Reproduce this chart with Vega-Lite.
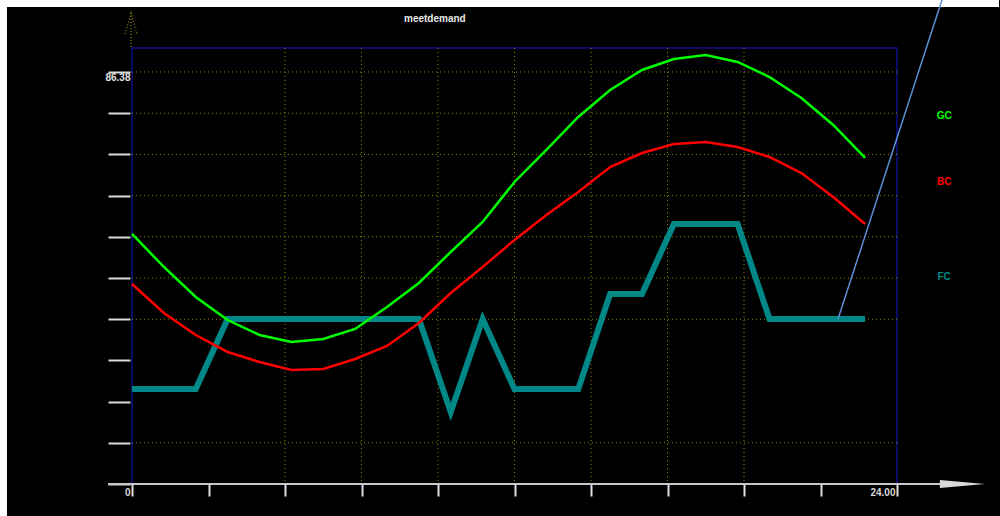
{
  "$schema": "https://vega.github.io/schema/vega-lite/v6.json",
  "width": 765,
  "height": 436,
  "autosize": "none",
  "padding": {"left": 132, "top": 48, "right": 103, "bottom": 32},
  "background": "#000000",
  "config": {
    "view": {"stroke": "#101088", "strokeWidth": 1.5},
    "axis": {"zindex": 1}
  },
  "title": {
    "text": "meetdemand",
    "anchor": "start",
    "frame": "group",
    "dx": 272,
    "offset": -35,
    "baseline": "alphabetic",
    "color": "#e8e8e8",
    "font": "Liberation Sans",
    "fontSize": 10,
    "fontWeight": "bold"
  },
  "datasets": {
    "demand": [
      {"hour": 0, "series": "GC", "value": 52.42}, {"hour": 1, "series": "GC", "value": 45.50}, {"hour": 2, "series": "GC", "value": 39.21}, {"hour": 3, "series": "GC", "value": 34.38},
      {"hour": 4, "series": "GC", "value": 31.24}, {"hour": 5, "series": "GC", "value": 29.77}, {"hour": 6, "series": "GC", "value": 30.40}, {"hour": 7, "series": "GC", "value": 32.50},
      {"hour": 8, "series": "GC", "value": 37.11}, {"hour": 9, "series": "GC", "value": 42.14}, {"hour": 10, "series": "GC", "value": 48.64}, {"hour": 11, "series": "GC", "value": 54.93},
      {"hour": 12, "series": "GC", "value": 63.32}, {"hour": 13, "series": "GC", "value": 70.03}, {"hour": 14, "series": "GC", "value": 76.95}, {"hour": 15, "series": "GC", "value": 82.61},
      {"hour": 16, "series": "GC", "value": 86.80}, {"hour": 17, "series": "GC", "value": 89.11}, {"hour": 18, "series": "GC", "value": 89.94}, {"hour": 19, "series": "GC", "value": 88.48},
      {"hour": 20, "series": "GC", "value": 85.33}, {"hour": 21, "series": "GC", "value": 80.93}, {"hour": 22, "series": "GC", "value": 75.27}, {"hour": 23, "series": "GC", "value": 68.35},
      {"hour": 0, "series": "BC", "value": 41.93}, {"hour": 1, "series": "BC", "value": 35.85}, {"hour": 2, "series": "BC", "value": 31.24}, {"hour": 3, "series": "BC", "value": 27.68},
      {"hour": 4, "series": "BC", "value": 25.58}, {"hour": 5, "series": "BC", "value": 23.90}, {"hour": 6, "series": "BC", "value": 24.11}, {"hour": 7, "series": "BC", "value": 26.21},
      {"hour": 8, "series": "BC", "value": 28.93}, {"hour": 9, "series": "BC", "value": 33.76}, {"hour": 10, "series": "BC", "value": 40.05}, {"hour": 11, "series": "BC", "value": 45.50},
      {"hour": 12, "series": "BC", "value": 51.16}, {"hour": 13, "series": "BC", "value": 56.40}, {"hour": 14, "series": "BC", "value": 61.22}, {"hour": 15, "series": "BC", "value": 66.46},
      {"hour": 16, "series": "BC", "value": 69.40}, {"hour": 17, "series": "BC", "value": 71.28}, {"hour": 18, "series": "BC", "value": 71.70}, {"hour": 19, "series": "BC", "value": 70.65},
      {"hour": 20, "series": "BC", "value": 68.56}, {"hour": 21, "series": "BC", "value": 65.20}, {"hour": 22, "series": "BC", "value": 60.17}, {"hour": 23, "series": "BC", "value": 54.51},
      {"hour": 0, "series": "FC", "value": 19.92}, {"hour": 1, "series": "FC", "value": 19.92}, {"hour": 2, "series": "FC", "value": 19.92}, {"hour": 3, "series": "FC", "value": 34.59},
      {"hour": 4, "series": "FC", "value": 34.59}, {"hour": 5, "series": "FC", "value": 34.59}, {"hour": 6, "series": "FC", "value": 34.59}, {"hour": 7, "series": "FC", "value": 34.59},
      {"hour": 8, "series": "FC", "value": 34.59}, {"hour": 9, "series": "FC", "value": 34.59}, {"hour": 10, "series": "FC", "value": 15.10}, {"hour": 11, "series": "FC", "value": 34.59},
      {"hour": 12, "series": "FC", "value": 19.92}, {"hour": 13, "series": "FC", "value": 19.92}, {"hour": 14, "series": "FC", "value": 19.92}, {"hour": 15, "series": "FC", "value": 39.84},
      {"hour": 16, "series": "FC", "value": 39.84}, {"hour": 17, "series": "FC", "value": 54.51}, {"hour": 18, "series": "FC", "value": 54.51}, {"hour": 19, "series": "FC", "value": 54.51},
      {"hour": 20, "series": "FC", "value": 34.59}, {"hour": 21, "series": "FC", "value": 34.59}, {"hour": 22, "series": "FC", "value": 34.59}, {"hour": 23, "series": "FC", "value": 34.59}
    ],
    "hgrid": [{"v": 8.638}, {"v": 34.552}, {"v": 43.19}, {"v": 51.828}, {"v": 60.466}, {"v": 69.104}, {"v": 77.742}, {"v": 86.38}],
    "vgrid": [{"h": 4.8}, {"h": 7.2}, {"h": 9.6}, {"h": 12}, {"h": 14.4}, {"h": 16.8}, {"h": 19.2}],
    "pointer": [{"hour": 22.15, "value": 34.59}, {"hour": 25.41, "value": 101.48}]
  },
  "layer": [
    {
      "data": {"values": [{}]},
      "mark": {"type": "rect", "color": "#ffffff", "clip": false},
      "encoding": {
        "x": {"datum": -4.141, "type": "quantitative", "scale": {"domain": [0, 24], "nice": false, "zero": false}, "axis": {"values": [0, 2.4, 4.8, 7.2, 9.6, 12, 14.4, 16.8, 19.2, 21.6, 24], "domain": false, "grid": false, "title": null, "tickSize": 12, "tickWidth": 2, "tickColor": "#e0e0e0", "labelExpr": "datum.value == 0 ? '0' : (datum.value == 24 ? '24.00' : '')", "labelAlign": "right", "labelBaseline": "top", "labelPadding": -9, "labelOffset": -2, "labelFlush": false, "labelOverlap": false, "labelColor": "#d8d8d8", "labelFont": "Liberation Sans", "labelFontSize": 10, "labelFontWeight": "bold"}},
        "x2": {"datum": -3.922},
        "y": {"datum": -6.71, "type": "quantitative", "scale": {"domain": [0, 91.41], "nice": false, "zero": false}, "axis": {"values": [0, 8.638, 17.276, 25.914, 34.552, 43.19, 51.828, 60.466, 69.104, 77.742, 86.38], "domain": false, "grid": false, "title": null, "offset": 2, "tickSize": 22, "tickWidth": 2, "tickColor": "#dcdcdc", "labelExpr": "datum.value == 86.38 ? '86.38' : ''", "labelAlign": "right", "labelBaseline": "middle", "labelPadding": -22, "labelOffset": 6, "labelOverlap": false, "labelColor": "#e0e0e0", "labelFont": "Liberation Sans", "labelFontSize": 10, "labelFontWeight": "bold"}},
        "y2": {"datum": 101.48}
      }
    },
    {
      "data": {"values": [{}]},
      "mark": {"type": "rect", "color": "#ffffff", "clip": false},
      "encoding": {
        "x": {"datum": -4.141, "type": "quantitative"},
        "x2": {"datum": 27.2},
        "y": {"datum": 100.01, "type": "quantitative"},
        "y2": {"datum": 101.48}
      }
    },
    {
      "data": {"name": "hgrid"},
      "mark": {"type": "rule", "color": "#8a8a00", "strokeWidth": 1, "strokeDash": [1, 3]},
      "encoding": {"y": {"field": "v", "type": "quantitative"}}
    },
    {
      "data": {"name": "vgrid"},
      "mark": {"type": "rule", "color": "#8a8a00", "strokeWidth": 1, "strokeDash": [1, 3]},
      "encoding": {"x": {"field": "h", "type": "quantitative"}}
    },
    {
      "data": {"values": [{}]},
      "mark": {"type": "rule", "color": "#8a8a10", "strokeWidth": 1.2, "strokeDash": [1, 2], "clip": false},
      "encoding": {
        "x": {"datum": -0.03, "type": "quantitative"},
        "y": {"datum": 91.6, "type": "quantitative"},
        "y2": {"datum": 98.75}
      }
    },
    {
      "data": {"values": [{}]},
      "mark": {"type": "point", "shape": "M -0.57 1 L 0 -1 L 0.57 1", "size": 441, "filled": false, "stroke": "#8a8a10", "strokeWidth": 1.2, "strokeDash": [1, 2], "opacity": 1, "clip": false},
      "encoding": {
        "x": {"datum": -0.03, "type": "quantitative"},
        "y": {"datum": 96.55, "type": "quantitative"}
      }
    },
    {
      "data": {"name": "demand"},
      "transform": [{"filter": "datum.series == 'FC'"}],
      "mark": {"type": "line", "strokeWidth": 6},
      "encoding": {
        "x": {"field": "hour", "type": "quantitative"},
        "y": {"field": "value", "type": "quantitative"},
        "color": {"field": "series", "type": "nominal", "scale": {"domain": ["GC", "BC", "FC"], "range": ["#00ff00", "#ff0000", "#008888"]}, "legend": null}
      }
    },
    {
      "data": {"name": "demand"},
      "transform": [{"filter": "datum.series != 'FC'"}],
      "mark": {"type": "line", "strokeWidth": 2.5},
      "encoding": {
        "x": {"field": "hour", "type": "quantitative"},
        "y": {"field": "value", "type": "quantitative"},
        "color": {"field": "series", "type": "nominal", "legend": null}
      }
    },
    {
      "data": {"name": "pointer"},
      "mark": {"type": "line", "color": "#5a8fd8", "strokeWidth": 1.5, "clip": false},
      "encoding": {
        "x": {"field": "hour", "type": "quantitative"},
        "y": {"field": "value", "type": "quantitative"}
      }
    },
    {
      "data": {"values": [{}]},
      "mark": {"type": "rule", "color": "#c8c8c8", "strokeWidth": 2, "clip": false},
      "encoding": {
        "x": {"datum": -0.75, "type": "quantitative"},
        "x2": {"datum": 25.6},
        "y": {"datum": 0, "type": "quantitative"}
      }
    },
    {
      "data": {"values": [{}]},
      "mark": {"type": "point", "shape": "M -1 -0.18 L 1 0 L -1 0.18 Z", "size": 2025, "filled": true, "color": "#d8d8d8", "opacity": 1, "clip": false},
      "encoding": {
        "x": {"datum": 26.05, "type": "quantitative"},
        "y": {"datum": 0, "type": "quantitative"}
      }
    },
    {
      "data": {"name": "demand"},
      "transform": [{"filter": "datum.hour == 23"}],
      "mark": {"type": "text", "dx": 79, "dy": -42, "font": "Liberation Sans", "fontSize": 10, "fontWeight": "bold", "align": "center", "baseline": "middle", "clip": false},
      "encoding": {
        "x": {"field": "hour", "type": "quantitative"},
        "y": {"field": "value", "type": "quantitative"},
        "text": {"field": "series"},
        "color": {"field": "series", "type": "nominal", "legend": null}
      }
    }
  ]
}
